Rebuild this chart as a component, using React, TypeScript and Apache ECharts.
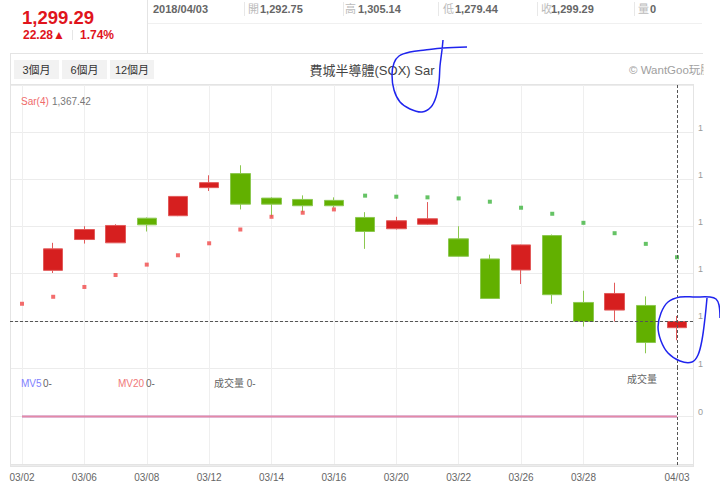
import React, { useEffect, useRef } from 'react';
import * as echarts from 'echarts';

// ---- data ----
const dates = ['03/02', '03/05', '03/06', '03/07', '03/08', '03/09', '03/12', '03/13', '03/14', '03/15', '03/16',
  '03/19', '03/20', '03/21', '03/22', '03/23', '03/26', '03/27', '03/28', '03/29', '04/02', '04/03'];
const opens = [null, 1353.5, 1386.2, 1382.7, 1408.8, 1411.4, 1441.2, 1456.1, 1430.1, 1428.7, 1427.7,
  1409.6, 1397.6, 1402.4, 1386.9, 1365.6, 1353.9, 1390.4, 1319.5, 1311.4, 1316.3, 1292.75];
const closes = [null, 1376.3, 1396.8, 1401.1, 1401.8, 1431.9, 1446.5, 1423.7, 1423.7, 1422.0, 1422.0,
  1394.7, 1406.1, 1408.2, 1368.4, 1323.7, 1380.5, 1327.7, 1299.3, 1329.0, 1277.01, 1299.29];
const lows = [null, 1350.7, 1381.9, 1382.5, 1394.7, 1411.0, 1437.6, 1418.1, 1410.3, 1415.2, 1419.9,
  1376.3, 1396.8, 1401.8, 1368.0, 1323.5, 1339.0, 1318.1, 1293.9, 1299.3, 1265.6, 1279.44];
const highs = [null, 1382.7, 1400.3, 1402.4, 1409.6, 1432.2, 1454.3, 1464.9, 1430.9, 1433.0, 1430.9,
  1415.2, 1410.3, 1425.9, 1400.3, 1370.2, 1380.8, 1391.5, 1331.9, 1340.4, 1325.9, 1305.14];
const sar = [1318.1, 1325.5, 1335.9, 1348.6, 1359.6, 1369.5, 1382.2, 1396.8, 1410.3, 1414.6, 1418.1,
  1432.7, 1431.6, 1430.9, 1429.8, 1426.3, 1419.9, 1413.5, 1403.9, 1392.9, 1381.6, 1367.42];
const volumes = [0, 0, 0, 0, 0, 0, 0, 0, 0, 0, 0, 0, 0, 0, 0, 0, 0, 0, 0, 0, 0, 0];
const mv5 = [0, 0, 0, 0, 0, 0, 0, 0, 0, 0, 0, 0, 0, 0, 0, 0, 0, 0, 0, 0, 0, 0];
const mv20 = [0, 0, 0, 0, 0, 0, 0, 0, 0, 0, 0, 0, 0, 0, 0, 0, 0, 0, 0, 0, 0, 0];
const priceTicks = { min: 1250, max: 1550, interval: 50 };
const volumeTicks = { min: -1, max: 1, interval: 1 };
const rangeButtons = ['3個月', '6個月', '12個月'];
const title = '費城半導體(SOX) Sar';

const FONT = 'Arial, "Liberation Sans", "Noto Sans CJK TC", sans-serif';
const RED = '#d61f1f';
const GREEN = '#62b000';
const BLUE_INK = '#1f24ee';

const fmt = (v: number) => v.toLocaleString('en-US', { minimumFractionDigits: 2, maximumFractionDigits: 2 });

function buildOption() {
  const last = dates.length - 1;
  const lastClose = closes[last] as number;
  const prevClose = closes[last - 1] as number;
  const change = lastClose - prevClose;
  const pct = (change / prevClose) * 100;

  const ohlc = dates.map((_, i) =>
    opens[i] == null ? ['-', '-', '-', '-'] : [opens[i], closes[i], lows[i], highs[i]]
  );
  const sarBelow = sar.map((v, i) => v < (closes[i] == null ? Infinity : (closes[i] as number)));
  const sarRed = sar.map((v, i) => (sarBelow[i] ? v : '-'));
  const sarGreen = sar.map((v, i) => (sarBelow[i] ? '-' : v));

  const gridLineFn = (i: number) => i % 2 === 0 && i <= 18;
  const labelFn = (i: number) => (i % 2 === 0 && i <= 18) || i === last;
  // the widget's right-hand axis labels are cut by the frame edge: only their first digit shows
  const cutLabel = (v: number) => String(v).charAt(0);

  const text = (t: string, x: number, y: number, o: any = {}) => ({
    type: 'text', x, y, z: o.z ?? 10,
    style: {
      text: t, fill: o.fill ?? '#666', fontSize: o.size ?? 11, fontWeight: o.weight ?? 'normal',
      fontFamily: FONT, align: o.align ?? 'left', verticalAlign: 'middle',
    },
  });
  const line = (x1: number, y1: number, x2: number, y2: number, stroke = '#e4e4e4') => ({
    type: 'line', shape: { x1, y1, x2, y2 }, style: { stroke, lineWidth: 1 }, z: 1,
  });

  const quote = [
    ['開', opens[last] as number, 248, 260, 244.5],
    ['高', highs[last] as number, 345, 358, 343.5],
    ['低', lows[last] as number, 443, 455, 438.5],
    ['收', closes[last] as number, 541, 551, 537.5],
  ];

  const graphicEls: any[] = [
    // header
    line(147.5, 0, 147.5, 53),
    line(148, 23.5, 702, 23.5, '#f0f0f0'),
    text(fmt(lastClose), 22, 17, { fill: '#e0141c', size: 18.5, weight: 'bold' }),
    text(`${fmt(change)}▲`, 23, 35, { fill: '#e0141c', size: 12, weight: 'bold' }),
    line(72.5, 30, 72.5, 40, '#e6e6e6'),
    text(`${pct.toFixed(2)}%`, 80, 35, { fill: '#e0141c', size: 12, weight: 'bold' }),
    text('2018/04/03', 153, 9, { fill: '#666', size: 11, weight: 'bold' }),
    ...quote.flatMap(([k, v, kx, vx, sx]) => [
      line(sx as number, 2, sx as number, 16, '#e8e8e8'),
      text(k as string, kx as number, 9, { fill: '#bbb', size: 11 }),
      text(fmt(v as number), vx as number, 9, { fill: '#666', size: 11, weight: 'bold' }),
    ]),
    line(634.5, 2, 634.5, 16, '#e8e8e8'),
    text('量', 638, 9, { fill: '#bbb', size: 11 }),
    text(String(volumes[last]), 650, 9, { fill: '#666', size: 11, weight: 'bold' }),
    // frame
    line(10, 53.5, 703, 53.5),
    line(10.5, 53, 10.5, 467),
    line(10, 84.5, 693, 84.5),
    line(693.5, 84, 693.5, 467),
    line(10, 464.5, 693, 464.5),
    line(10, 466.5, 693, 466.5),
    // range buttons
    ...rangeButtons.flatMap((b, i) => {
      const x = [14, 62, 110][i];
      const w = [45, 45, 44][i];
      return [
        { type: 'rect', shape: { x, y: 60, width: w, height: 19 }, style: { fill: '#f2f2f2' }, z: 2 },
        text(b, x + w / 2, 69.5, { fill: '#333', size: 11, align: 'center', z: 3 }),
      ];
    }),
    text(title, 372, 70, { fill: '#444', size: 13, align: 'center' }),
    text('© WantGoo玩股', 629, 70, { fill: '#a0a0a0', size: 11.5 }),
    { type: 'rect', shape: { x: 703.5, y: 58, width: 17, height: 24 }, style: { fill: '#fff' }, z: 20 },
    // legends
    text('Sar(4)', 21, 101, { fill: '#f06a6a', size: 10 }),
    text(fmt(sar[last]), 52, 101, { fill: '#777', size: 10 }),
    text('MV5', 21, 383, { fill: '#7f7fff', size: 10 }),
    text(`${mv5[last]}-`, 43, 383, { fill: '#666', size: 10 }),
    text('MV20', 118, 383, { fill: '#f07878', size: 10 }),
    text(`${mv20[last]}-`, 146, 383, { fill: '#666', size: 10 }),
    text(`成交量 ${volumes[last]}-`, 214, 383, { fill: '#666', size: 10 }),
    text('成交量', 627, 379, { fill: '#666', size: 10 }),
    // hand-drawn ink marks on the screenshot
    {
      type: 'polyline', z: 100,
      shape: {
        points: [[443, 40], [442, 50], [440, 66], [439, 82], [436, 97], [431, 107], [422, 112], [410, 109],
          [400, 102], [394, 90], [392, 75], [394, 63], [399, 56], [410, 52], [425, 50], [443, 48], [467, 47]],
        smooth: 0.35,
      },
      style: { stroke: BLUE_INK, lineWidth: 1.5, fill: null },
    },
    {
      type: 'polyline', z: 100,
      shape: {
        points: [[707, 298], [705, 318], [702, 340], [698, 355], [692, 362], [680, 361], [668, 353], [661, 341],
          [658, 327], [661, 313], [668, 302], [680, 297], [695, 297], [710, 297], [716, 299], [719, 305], [720, 318]],
        smooth: 0.35,
      },
      style: { stroke: BLUE_INK, lineWidth: 1.5, fill: null },
    },
  ];

  const dashed = { color: '#555', type: [3, 2] as any, width: 1 };
  const splitX = { show: true, interval: gridLineFn, lineStyle: { color: '#efefef' } };

  return {
    animation: false,
    backgroundColor: '#fff',
    textStyle: { fontFamily: FONT },
    grid: [
      { left: 10, right: 27, top: 85, height: 283 },
      { left: 22, right: 43, top: 85, height: 283 },
      { left: 10, right: 27, top: 368, height: 97 },
      { left: 22, right: 43, top: 368, height: 97 },
    ],
    xAxis: [
      { type: 'value', gridIndex: 0, min: 0, max: 1, show: false },
      {
        type: 'category', gridIndex: 1, data: dates, boundaryGap: false,
        axisLine: { show: false }, axisTick: { show: false }, axisLabel: { show: false }, splitLine: splitX,
      },
      { type: 'value', gridIndex: 2, min: 0, max: 1, show: false },
      {
        type: 'category', gridIndex: 3, data: dates, boundaryGap: false,
        axisLine: { show: false }, axisTick: { show: false },
        axisLabel: { interval: labelFn, color: '#666', fontSize: 10, margin: 7 },
        splitLine: splitX,
      },
    ],
    yAxis: [
      {
        type: 'value', gridIndex: 0, position: 'right', ...priceTicks,
        axisLine: { show: false }, axisTick: { show: false },
        splitLine: { lineStyle: { color: '#ececec' } },
        axisLabel: {
          formatter: cutLabel, showMaxLabel: false, showMinLabel: true, color: '#9a9a9a', fontSize: 9,
          margin: 5, align: 'left', verticalAlign: 'bottom',
        },
      },
      { type: 'value', gridIndex: 1, ...priceTicks, show: false, splitLine: { show: false } },
      {
        type: 'value', gridIndex: 2, position: 'right', ...volumeTicks,
        axisLine: { show: false }, axisTick: { show: false },
        splitLine: { lineStyle: { color: '#ececec' } },
        axisLabel: {
          formatter: (v: number) => (v === 0 ? '0' : ''), color: '#9a9a9a', fontSize: 9,
          margin: 5, align: 'left', verticalAlign: 'bottom',
        },
      },
      { type: 'value', gridIndex: 3, ...volumeTicks, show: false, splitLine: { show: false } },
    ],
    series: [
      {
        type: 'line', xAxisIndex: 0, yAxisIndex: 0, data: [], silent: true,
        markLine: {
          silent: true, symbol: ['none', 'none'], label: { show: false }, lineStyle: dashed,
          data: [{ yAxis: lastClose }],
        },
      },
      {
        type: 'candlestick', name: 'SOX', xAxisIndex: 1, yAxisIndex: 1, data: ohlc, barWidth: 20,
        itemStyle: { color: RED, color0: GREEN, borderColor: '#e25a5a', borderColor0: '#8cc850', borderWidth: 1 },
        markLine: {
          silent: true, symbol: ['none', 'none'], label: { show: false }, lineStyle: dashed,
          data: [{ xAxis: dates[last] }],
        },
      },
      {
        type: 'scatter', name: 'Sar(4)', xAxisIndex: 1, yAxisIndex: 1, data: sarRed,
        symbol: 'rect', symbolSize: 4, itemStyle: { color: '#f04848' }, z: 4,
      },
      {
        type: 'scatter', name: 'Sar(4) ', xAxisIndex: 1, yAxisIndex: 1, data: sarGreen,
        symbol: 'rect', symbolSize: 4, itemStyle: { color: '#3fb43f' }, z: 4,
      },
      {
        type: 'bar', name: '成交量', xAxisIndex: 3, yAxisIndex: 3, data: volumes, barWidth: 20,
        itemStyle: { color: RED },
      },
      {
        type: 'line', name: 'MV5', xAxisIndex: 3, yAxisIndex: 3, data: mv5, showSymbol: false,
        lineStyle: { color: '#7f7fff', width: 1.5 }, itemStyle: { color: '#7f7fff' },
      },
      {
        type: 'line', name: 'MV20', xAxisIndex: 3, yAxisIndex: 3, data: mv20, showSymbol: false,
        lineStyle: { color: '#e48aa6', width: 2 }, itemStyle: { color: '#e48aa6' },
        markLine: {
          silent: true, symbol: ['none', 'none'], label: { show: false }, lineStyle: dashed,
          data: [{ xAxis: dates[last] }],
        },
      },
    ],
    graphic: { elements: graphicEls },
  };
}

export default function App() {
  const ref = useRef<HTMLDivElement>(null);
  useEffect(() => {
    if (!ref.current) return;
    const chart = echarts.init(ref.current, undefined, { renderer: 'svg' });
    chart.setOption(buildOption() as any);
    return () => chart.dispose();
  }, []);
  return (
    <div
      ref={ref}
      style={{ position: 'absolute', left: 0, top: 0, width: 720, height: 489, background: '#fff' }}
    />
  );
}
